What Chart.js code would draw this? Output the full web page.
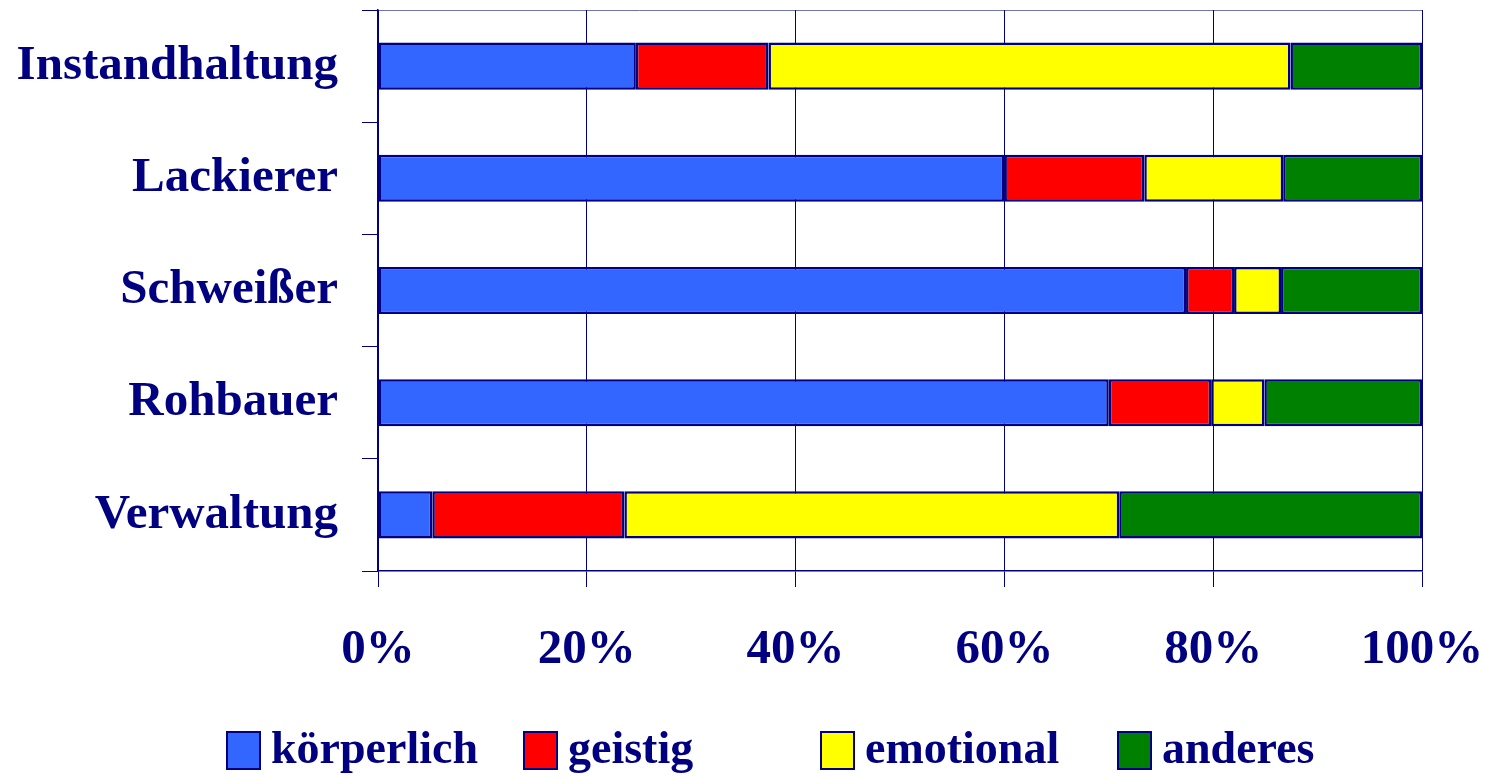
<!DOCTYPE html>
<html>
<head>
<meta charset="utf-8">
<script src="https://cdn.jsdelivr.net/npm/chart.js@4/dist/chart.umd.min.js"></script>
<style>
  body { margin: 0; background: #fff; }
  canvas { display: block; }
</style>
</head>
<body>
<canvas id="chart" width="1494" height="778"></canvas>
<script>
const categories = ['Instandhaltung', 'Lackierer', 'Schweißer', 'Rohbauer', 'Verwaltung'];
const seriesNames = ['körperlich', 'geistig', 'emotional', 'anderes'];
const koerperlich = [24.7, 60.0, 77.4, 70.0, 5.2];
const geistig = [12.7, 13.4, 4.6, 9.8, 18.4];
const emotional = [50.0, 13.3, 4.5, 5.1, 47.4];
const anderes = [12.6, 13.3, 13.5, 15.1, 29.0];
const xTicks = [0, 20, 40, 60, 80, 100];

const NAVY = '#000080';
const FONT = '"Liberation Serif", "Times New Roman", serif';
const colors = ['#3366FF', '#FF0000', '#FFFF00', '#008000'];
const values = [koerperlich, geistig, emotional, anderes];

// legend drawn in fixed-width columns like the original
const columnLegend = {
  id: 'columnLegend',
  afterDraw(chart) {
    const ctx = chart.ctx;
    ctx.save();
    ctx.font = 'bold 46px ' + FONT;
    ctx.textBaseline = 'middle';
    ctx.textAlign = 'left';
    chart.data.datasets.forEach((ds, i) => {
      const x = 227 + i * 297;
      const y = 732;
      ctx.fillStyle = ds.backgroundColor;
      ctx.fillRect(x, y, 33, 37);
      ctx.strokeStyle = NAVY;
      ctx.lineWidth = 2;
      ctx.strokeRect(x, y, 33, 37);
      ctx.fillStyle = NAVY;
      ctx.fillText(ds.label, x + 44, y + 19);
    });
    ctx.restore();
  }
};

new Chart(document.getElementById('chart'), {
  type: 'bar',
  data: {
    labels: categories,
    datasets: seriesNames.map((name, i) => ({
      label: name,
      data: values[i],
      backgroundColor: colors[i],
      borderColor: NAVY,
      borderWidth: 2.5,
      borderSkipped: false,
      barPercentage: 0.42,
      categoryPercentage: 1,
    })),
  },
  options: {
    indexAxis: 'y',
    responsive: false,
    animation: false,
    layout: { padding: { top: 10, right: 72, left: 0, bottom: 0 } },
    scales: {
      x: {
        stacked: true,
        min: 0,
        max: 100,
        afterBuildTicks: (axis) => { axis.ticks = xTicks.map(v => ({ value: v })); },
        afterFit: (axis) => {
          axis.height = 207;
          axis.paddingLeft = 0;
          axis.paddingRight = 0;
        },
        grid: { color: NAVY, lineWidth: 1, tickLength: 16 },
        border: { color: NAVY, width: 1.5 },
        ticks: {
          callback: (v) => v + '%',
          color: NAVY,
          font: { family: FONT, size: 49, weight: 'bold' },
          padding: 34,
          maxRotation: 0,
        },
      },
      y: {
        stacked: true,
        afterFit: (axis) => {
          axis.width = 378;
          axis.paddingTop = 0;
          axis.paddingBottom = 0;
        },
        grid: {
          offset: true,
          drawOnChartArea: true,
          color: (c) => (c.index === 0 ? 'rgba(0,0,128,0.55)' : 'rgba(0,0,0,0)'),
          tickColor: NAVY,
          tickLength: 16,
        },
        border: { color: NAVY, width: 1.5 },
        ticks: {
          color: NAVY,
          font: { family: FONT, size: 49, weight: 'bold' },
          padding: 24,
        },
      },
    },
    plugins: {
      legend: { display: false },
      tooltip: { enabled: false },
    },
  },
  plugins: [columnLegend],
});
</script>
</body>
</html>
